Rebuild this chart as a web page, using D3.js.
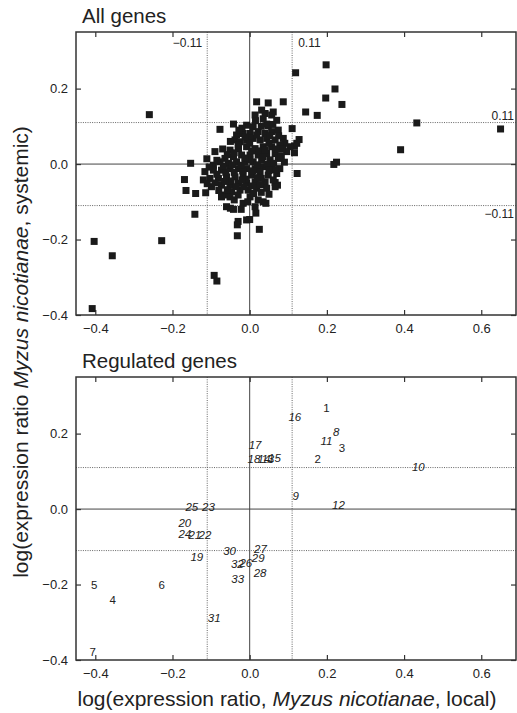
<!DOCTYPE html>
<html lang="en">
<head>
  <meta charset="UTF-8">
  <title>Local vs systemic expression ratios</title>
  <script src="https://d3js.org/d3.v7.min.js"></script>
  <style>
    body { margin: 0; background: #fff; }
    svg { display: block; font-family: 'Liberation Sans', Arial, sans-serif; }
    .tick text { font-size: 13px; fill: #222; }
    .tick line { stroke: #333; stroke-width: 1.2; }
  </style>
</head>
<body>
  <script>
    // all genes: [local, systemic] log ratios
    const allGenes = [
      [-0.408, -0.383], [-0.403, -0.205], [-0.356, -0.243], [-0.228, -0.203], [-0.260, 0.131], [-0.092, -0.295], [-0.085, -0.310],
      [-0.169, -0.041], [-0.165, -0.070], [-0.140, -0.078], [-0.114, -0.076], [-0.142, -0.133], [-0.153, 0.002], [-0.111, 0.014],
      [0.119, 0.242], [0.198, 0.263], [0.221, 0.199], [0.197, 0.175], [0.239, 0.158], [0.145, 0.138], [0.175, 0.129],
      [0.433, 0.109], [0.650, 0.093], [0.391, 0.038], [0.218, -0.001], [0.225, 0.005], [0.110, 0.094], [0.128, 0.065],
      [0.116, 0.048], [0.116, 0.030], [0.123, -0.025],
      [-0.032, -0.190], [0.025, -0.173], [-0.030, -0.152], [-0.032, -0.161], [0.000, -0.147], [-0.008, -0.148], [0.016, -0.130],
      [0.035, -0.100], [0.042, -0.104], [-0.050, -0.117], [-0.042, -0.120], [0.066, -0.049], [0.072, -0.056],
      [0.018, 0.165], [0.048, 0.162], [0.087, 0.165],
      [0.031, 0.143], [0.040, 0.134], [0.061, 0.138], [0.057, 0.130], [0.014, 0.130],
      [0.070, 0.116], [-0.042, 0.106], [-0.077, 0.092],
      [-0.008, 0.103], [0.009, 0.099], [0.048, 0.101], [0.044, 0.106],
      [-0.034, 0.077], [-0.017, 0.081], [0.001, 0.081], [0.022, 0.086], [0.040, 0.081], [0.057, 0.086], [0.074, 0.090],
      [-0.038, 0.064], [-0.025, 0.059], [-0.008, 0.064], [0.009, 0.068], [0.027, 0.064], [0.044, 0.068], [0.066, 0.064], [0.087, 0.068],
      [0.091, 0.055], [0.104, 0.046], [0.122, 0.055],
      [-0.090, 0.033],
      [-0.051, 0.037], [-0.029, 0.041], [-0.008, 0.046], [0.014, 0.041], [0.035, 0.046], [0.057, 0.046], [0.078, 0.050],
      [-0.064, 0.015], [-0.042, 0.019], [-0.021, 0.024], [0.001, 0.024], [0.022, 0.024], [0.044, 0.028], [0.066, 0.028], [0.096, 0.033],
      [-0.094, -0.003], [-0.077, 0.006], [-0.055, 0.002], [-0.034, 0.006], [-0.012, 0.006], [0.009, 0.006], [0.031, 0.011], [0.053, 0.011], [0.074, 0.015],
      [-0.116, -0.020], [-0.094, -0.016], [-0.073, -0.016], [-0.051, -0.012], [-0.029, -0.012], [-0.008, -0.012], [0.014, -0.012], [0.035, -0.007], [0.057, -0.007], [0.078, -0.012],
      [-0.120, -0.042], [-0.103, -0.038], [-0.081, -0.038], [-0.060, -0.034], [-0.038, -0.034], [-0.017, -0.029], [0.005, -0.029], [0.027, -0.025], [0.048, -0.029], [0.070, -0.025],
      [-0.099, -0.060], [-0.073, -0.056], [-0.051, -0.056], [-0.029, -0.051], [-0.008, -0.051], [0.014, -0.047], [0.040, -0.047], [0.061, -0.042],
      [-0.064, -0.082], [-0.047, -0.073], [-0.025, -0.069], [-0.004, -0.069], [0.018, -0.064], [0.044, -0.064], [0.066, -0.060],
      [-0.073, -0.087], [-0.051, -0.087], [0.001, -0.087],
      [-0.060, -0.113], [-0.017, -0.104], [0.014, -0.113], [0.022, -0.095],
      [-0.020, 0.095], [0.030, 0.100], [0.060, 0.105], [-0.050, 0.060], [0.000, 0.055], [0.050, 0.055], [0.075, 0.075],
      [-0.070, 0.040], [-0.040, 0.030], [0.025, 0.035], [0.085, 0.040], [-0.085, 0.010], [-0.045, -0.002], [0.000, 0.012],
      [0.045, 0.000], [0.090, 0.005], [-0.105, -0.008], [-0.062, -0.022], [-0.018, -0.018], [0.025, -0.015], [0.065, -0.015],
      [-0.090, -0.050], [-0.048, -0.045], [-0.010, -0.040], [0.030, -0.038], [-0.080, -0.070], [-0.035, -0.060], [0.005, -0.058],
      [0.030, -0.075], [-0.040, -0.095], [-0.005, -0.100], [0.050, -0.080],
      [-0.028, 0.090], [0.015, 0.115], [0.035, 0.120], [-0.012, 0.072], [0.018, 0.077], [0.052, 0.075], [-0.030, 0.050],
      [0.005, 0.035], [0.040, 0.037], [0.068, 0.040], [-0.058, 0.025], [-0.012, 0.016], [0.035, 0.020], [0.082, 0.022],
      [-0.068, -0.005], [-0.022, -0.003], [0.020, -0.002], [0.062, 0.002], [-0.085, -0.027], [-0.040, -0.022], [0.008, -0.018],
      [0.050, -0.017], [-0.110, -0.052], [-0.065, -0.046], [-0.020, -0.042], [0.020, -0.036], [-0.058, -0.068], [-0.015, -0.060],
      [0.028, -0.055], [-0.030, -0.082], [0.010, -0.078], [-0.022, -0.120]
    ];

    // regulated genes, numbered labels
    const regIds = d3.range(1, 34);
    const regX = [0.199, 0.176, 0.239, -0.355, -0.403, -0.228, -0.407, 0.224, 0.119, 0.437, 0.199,
      0.230, 0.047, 0.037, 0.064, 0.117, 0.014, 0.011, -0.137, -0.168, -0.142, -0.116,
      -0.107, -0.168, -0.150, -0.010, 0.028, 0.027, 0.022, -0.052, -0.092, -0.032, -0.031];
    const regY = [0.267, 0.134, 0.161, -0.240, -0.202, -0.201, -0.380, 0.205, 0.034, 0.112, 0.180,
      0.011, 0.134, 0.134, 0.135, 0.245, 0.170, 0.134, -0.128, -0.036, -0.070, -0.070,
      0.006, -0.066, 0.006, -0.144, -0.105, -0.170, -0.130, -0.110, -0.290, -0.146, -0.185];
    // genes 1-7 printed upright, the rest italic
    const uprightIds = [1, 2, 3, 4, 5, 6, 7];

    const threshold = 0.11;
    const xTicks = [-0.4, -0.2, 0, 0.2, 0.4, 0.6];
    const yTicks = [-0.4, -0.2, 0, 0.2];

    const W = 517, H = 713;
    const svg = d3.select("body").append("svg").attr("width", W).attr("height", H);

    const x = d3.scaleLinear().domain([-0.45, 0.69]).range([76, 516]);
    const fmt = d3.format(".1f");

    function panel(top, title) {
      const y = d3.scaleLinear().domain([-0.4, 0.35]).range([top + 283, top]);
      const g = svg.append("g");

      g.append("text").attr("x", 82).attr("y", top - 9)
        .style("font-size", "20.5px").attr("fill", "#222").text(title);

      // zero lines
      g.append("line").attr("x1", x(0)).attr("x2", x(0)).attr("y1", y.range()[1]).attr("y2", y.range()[0])
        .attr("stroke", "#444").attr("stroke-width", 1);
      g.append("line").attr("x1", x.range()[0]).attr("x2", x.range()[1]).attr("y1", y(0)).attr("y2", y(0))
        .attr("stroke", "#444").attr("stroke-width", 1);

      // threshold lines
      [-threshold, threshold].forEach(t => {
        g.append("line").attr("x1", x(t)).attr("x2", x(t)).attr("y1", y.range()[1]).attr("y2", y.range()[0])
          .attr("stroke", "#555").attr("stroke-width", 0.9).attr("stroke-dasharray", "1,1.3");
        g.append("line").attr("x1", x.range()[0]).attr("x2", x.range()[1]).attr("y1", y(t)).attr("y2", y(t))
          .attr("stroke", "#555").attr("stroke-width", 0.9).attr("stroke-dasharray", "1,1.3");
      });

      // axes, ticks pointing inward
      g.append("g").attr("transform", `translate(0,${y.range()[0]})`)
        .call(d3.axisBottom(x).tickValues(xTicks).tickSize(-5).tickPadding(9).tickFormat(fmt));
      g.append("g").attr("transform", `translate(${x.range()[0]},0)`)
        .call(d3.axisLeft(y).tickValues(yTicks).tickSize(-5).tickPadding(8).tickFormat(fmt));
      g.append("g").attr("transform", `translate(0,${y.range()[1]})`)
        .call(d3.axisTop(x).tickValues(xTicks).tickSize(-5).tickFormat(""));
      g.append("g").attr("transform", `translate(${x.range()[1]},0)`)
        .call(d3.axisRight(y).tickValues(yTicks).tickSize(-5).tickFormat(""));
      g.selectAll(".domain").remove();

      g.append("rect")
        .attr("x", x.range()[0]).attr("y", y.range()[1])
        .attr("width", x.range()[1] - x.range()[0]).attr("height", y.range()[0] - y.range()[1])
        .attr("fill", "none").attr("stroke", "#333").attr("stroke-width", 1.5);

      return { g, y };
    }

    // top panel
    const p1 = panel(32, "All genes");
    p1.g.selectAll("rect.pt").data(allGenes).enter().append("rect")
      .attr("class", "pt")
      .attr("x", d => x(d[0]) - 3.5).attr("y", d => p1.y(d[1]) - 3.5)
      .attr("width", 7).attr("height", 7)
      .attr("fill", "#1a1a1a");

    const ann = p1.g.append("g").style("font-size", "12px").attr("fill", "#222");
    ann.append("text").attr("x", x(-threshold) - 5).attr("y", p1.y.range()[1] + 15)
      .attr("text-anchor", "end").text("−0.11");
    ann.append("text").attr("x", x(threshold) + 6).attr("y", p1.y.range()[1] + 15).text("0.11");
    ann.append("text").attr("x", x.range()[1] - 2).attr("y", p1.y(threshold) - 3)
      .attr("text-anchor", "end").text("0.11");
    ann.append("text").attr("x", x.range()[1] - 2).attr("y", p1.y(-threshold) + 12)
      .attr("text-anchor", "end").text("−0.11");

    // bottom panel
    const p2 = panel(377, "Regulated genes");
    p2.g.selectAll("text.lab").data(regIds).enter().append("text")
      .attr("class", "lab")
      .attr("x", (d, i) => x(regX[i])).attr("y", (d, i) => p2.y(regY[i]))
      .attr("text-anchor", "middle").attr("dominant-baseline", "central")
      .style("font-size", "11.5px")
      .style("font-style", d => uprightIds.includes(d) ? "normal" : "italic")
      .attr("fill", "#222")
      .text(d => d);

    // axis titles
    const yt = svg.append("text").attr("transform", "translate(28,352) rotate(-90)")
      .attr("text-anchor", "middle").style("font-size", "21px").attr("fill", "#222");
    yt.append("tspan").text("log(expression ratio ");
    yt.append("tspan").style("font-style", "italic").text("Myzus nicotianae");
    yt.append("tspan").text(", systemic)");

    const xt = svg.append("text").attr("x", 287).attr("y", 706)
      .attr("text-anchor", "middle").style("font-size", "21px").attr("fill", "#222");
    xt.append("tspan").text("log(expression ratio, ");
    xt.append("tspan").style("font-style", "italic").text("Myzus nicotianae");
    xt.append("tspan").text(", local)");
  </script>
</body>
</html>
